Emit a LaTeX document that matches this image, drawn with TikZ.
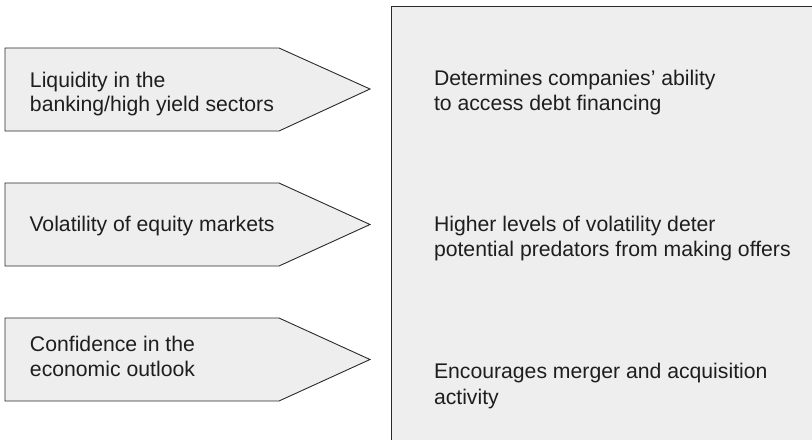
\documentclass[tikz,border=0pt]{standalone}
\usepackage{fontspec}
\setmainfont{Liberation Sans}
\definecolor{boxfill}{HTML}{EEEEEE}
\definecolor{edge}{HTML}{2A2A2A}
\definecolor{ink}{HTML}{1E1E1E}
\tikzset{
  arrowbox/.style={draw=edge, fill=boxfill, line width=0.9pt, line join=miter},
  label/.style={anchor=base west, inner sep=0pt, outer sep=0pt, text=ink, align=left,
    font=\fontsize{21.2pt}{24.6pt}\selectfont},
}
\begin{document}
\begin{tikzpicture}[x=1pt, y=-1pt]
\useasboundingbox (0,0) rectangle (812,440);
% right panel (open on right and bottom)
\fill[boxfill] (391,6) rectangle (812,440);
\draw[draw=edge, line width=0.9pt] (812,6) -- (391,6) -- (391,440);
% arrows
\draw[arrowbox] (5,48) -- (279,48) -- (370,89) -- (279,131) -- (5,131) -- cycle;
\draw[arrowbox] (5,183) -- (279,183) -- (370,224.5) -- (279,266) -- (5,266) -- cycle;
\draw[arrowbox] (5,318) -- (279,318) -- (370,359.5) -- (279,401) -- (5,401) -- cycle;
% left texts
\node[label] (liq) at (30,87.3) {Liquidity in the};
\node[label] (liqb) at (30,111.9) {banking/high yield sectors};
\node[label] (vol) at (29.5,231.5) {Volatility of equity markets};
\node[label] (conf) at (30,351.7) {Confidence in the};
\node[label] (confb) at (30,376.5) {economic outlook};
% right texts
\node[label] (det) at (434,85.3) {Determines companies’ ability};
\node[label] (detb) at (434,110) {to access debt financing};
\node[label] (hig) at (434,231) {Higher levels of volatility deter};
\node[label] (higb) at (434,256.5) {potential predators from making offers};
\node[label] (enc) at (434,378.3) {Encourages merger and acquisition};
\node[label] (encb) at (434,404) {activity};
\end{tikzpicture}
\end{document}
